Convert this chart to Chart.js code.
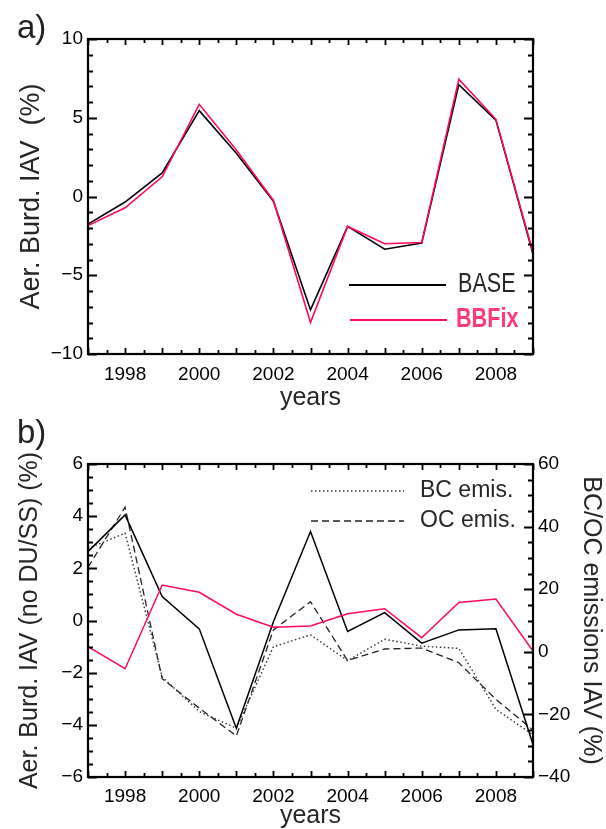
<!DOCTYPE html>
<html>
<head>
<meta charset="utf-8">
<script src="https://cdn.jsdelivr.net/npm/chart.js@4.4.1/dist/chart.umd.min.js"></script>
<style>
  html, body { margin: 0; padding: 0; background: #fff; }
  #wrap { position: relative; width: 606px; height: 829px; overflow: hidden; }
  canvas { position: absolute; left: 0; }
  .panel { position: absolute; font-family: 'Liberation Sans', Arial, sans-serif; font-size: 33px; color: #222; line-height: 1; }
</style>
</head>
<body>
<div id="wrap">
  <canvas id="chartA" width="606" height="420" style="top:0"></canvas>
  <canvas id="chartB" width="606" height="409" style="top:420px"></canvas>
  <div class="panel" style="left:17px; top:10px;">a)</div>
  <div class="panel" style="left:17px; top:415px;">b)</div>
</div>
<script>
// ---- data ----
const years = [1997, 1998, 1999, 2000, 2001, 2002, 2003, 2004, 2005, 2006, 2007, 2008, 2009];

// (a) total aerosol burden interannual variability, %
const burdBase  = [-1.75, -0.35, 1.5, 5.45, 2.75, -0.3, -7.2, -1.9, -3.35, -2.95, 7.1, 4.85, -3.65];
const burdBBFix = [-1.85, -0.72, 1.25, 5.85, 2.95, -0.25, -8.0, -1.9, -3.0, -2.92, 7.45, 4.9, -3.55];

// (b) burden without dust / sea salt, % (left axis)
const burdNoDuSsBase  = [2.64, 4.05, 0.92, -0.32, -4.13, -0.05, 3.41, -0.42, 0.30, -0.87, -0.36, -0.32, -4.75];
const burdNoDuSsBBFix = [-1.0, -1.85, 1.36, 1.08, 0.24, -0.26, -0.21, 0.26, 0.45, -0.66, 0.69, 0.82, -1.17];

// (b) emissions interannual variability, % (right axis)
const bcEmis = [33, 37.9, -8.0, -19.1, -24.4, 1.6, 5.4, -2.8, 4.0, 1.8, 1.1, -18.4, -26.5];
const ocEmis = [27, 46.2, -8.6, -18.0, -26.9, 7.0, 16.0, -2.8, 0.9, 1.2, -3.5, -15.2, -25.0];

// axis ranges
const xRange = [1997, 2009];
const yRangeA = [-10, 10];
const yRangeB = [-6, 6];
const y2RangeB = [-40, 60];

// ---- styling ----
const FONT = "'Liberation Sans', Arial, sans-serif";
const PINK = '#ff0a56';
const PINK_TEXT = '#ff3a78';
const INK = '#000';
const TEXT = '#262626';

const pts = (vals) => vals.map((v, i) => ({ x: years[i], y: v }));
const fmtNum = (v) => (v < 0 ? '\u2212' + Math.abs(v) : String(v));
const isMult = (v, m) => Math.abs(v / m - Math.round(v / m)) < 1e-6;

// frame plus inward tick marks on all four sides
function frameTicks(cfg) {
  return {
    id: 'frameTicks',
    afterDatasetsDraw(chart) {
      const { ctx, chartArea: a, scales } = chart;
      ctx.save();
      ctx.strokeStyle = INK;
      ctx.lineWidth = 1.8;
      ctx.beginPath();
      const xs = scales.x;
      for (let v = xs.min; v <= xs.max + 1e-9; v += 0.5) {
        const px = Math.round(xs.getPixelForValue(v)) + 0.5;
        const len = isMult(v, 1) ? 6 : 4;
        ctx.moveTo(px, a.bottom); ctx.lineTo(px, a.bottom - len);
        ctx.moveTo(px, a.top); ctx.lineTo(px, a.top + len);
      }
      cfg.yTicks.forEach(({ id, minor, major, sides }) => {
        const s = scales[id];
        for (let v = s.min; v <= s.max + 1e-9; v += minor) {
          const py = Math.round(s.getPixelForValue(v)) + 0.5;
          const len = isMult(v, major) ? 9 : 5;
          if (sides.includes('left')) { ctx.moveTo(a.left, py); ctx.lineTo(a.left + len, py); }
          if (sides.includes('right')) { ctx.moveTo(a.right, py); ctx.lineTo(a.right - len, py); }
        }
      });
      ctx.stroke();
      ctx.lineWidth = 2.2;
      ctx.strokeRect(a.left, a.top, a.right - a.left, a.bottom - a.top);
      ctx.restore();
    }
  };
}

// legend key: line sample + label (optionally horizontally narrowed text)
function keyLegend(entries) {
  return {
    id: 'keyLegend',
    afterDraw(chart) {
      const ctx = chart.ctx;
      ctx.save();
      entries.forEach(e => {
        ctx.beginPath();
        ctx.setLineDash(e.dash || []);
        ctx.strokeStyle = e.lineColor;
        ctx.lineWidth = e.lineWidth;
        ctx.moveTo(e.x0, e.y); ctx.lineTo(e.x1, e.y);
        ctx.stroke();
        ctx.setLineDash([]);
        ctx.save();
        ctx.translate(e.tx, e.y + (e.dy || 0));
        ctx.scale(e.squeeze || 1, 1);
        ctx.fillStyle = e.textColor;
        ctx.font = e.font;
        ctx.textBaseline = 'middle';
        ctx.textAlign = 'left';
        ctx.fillText(e.text, 0, 0);
        ctx.restore();
      });
      ctx.restore();
    }
  };
}

const noGrid = { display: false, drawTicks: false };
const noBorder = { display: false };
const tickFont = { family: FONT, size: 19 };

function xAxis(height, pad, titlePad) {
  return {
    type: 'linear', min: xRange[0], max: xRange[1],
    afterFit(s) { s.height = height; },
    grid: noGrid, border: noBorder,
    ticks: {
      stepSize: 1, autoSkip: false, maxRotation: 0, padding: pad,
      color: INK, font: tickFont,
      callback: (v) => (v % 2 === 0 ? String(v) : '')
    },
    title: { display: true, text: 'years', color: TEXT, font: { family: FONT, size: 25 }, padding: { top: 0, bottom: titlePad } }
  };
}

// ---- panel a ----
new Chart(document.getElementById('chartA'), {
  type: 'line',
  data: {
    datasets: [
      { label: 'BBFix', data: pts(burdBBFix), borderColor: PINK, borderWidth: 1.6, order: 0 },
      { label: 'BASE', data: pts(burdBase), borderColor: INK, borderWidth: 1.6, order: 1 }
    ]
  },
  options: {
    responsive: false, animation: false, devicePixelRatio: 1, events: [],
    layout: { padding: { top: 39, right: 73, left: 0, bottom: 0 } },
    elements: { point: { radius: 0 }, line: { tension: 0 } },
    plugins: { legend: { display: false }, tooltip: { enabled: false } },
    scales: {
      x: xAxis(66, 9, 7),
      y: {
        min: yRangeA[0], max: yRangeA[1],
        afterFit(s) { s.width = 88; },
        grid: noGrid, border: noBorder,
        ticks: { stepSize: 5, padding: 5, color: INK, font: tickFont, callback: fmtNum },
        title: { display: true, text: 'Aer. Burd. IAV  (%)', color: TEXT, font: { family: FONT, size: 27 }, padding: { top: 15 } }
      }
    }
  },
  plugins: [
    frameTicks({ yTicks: [{ id: 'y', minor: 1, major: 5, sides: ['left', 'right'] }] }),
    keyLegend([
      { x0: 349, x1: 446, y: 285, lineColor: INK, lineWidth: 1.8, text: 'BASE', tx: 458, textColor: TEXT, font: `27px ${FONT}`, squeeze: 0.8 },
      { x0: 350, x1: 447, y: 320, lineColor: PINK, lineWidth: 1.8, text: 'BBFix', tx: 456, textColor: PINK_TEXT, font: `bold 27px ${FONT}`, squeeze: 0.8 }
    ])
  ]
});

// ---- panel b ----
new Chart(document.getElementById('chartB'), {
  type: 'line',
  data: {
    datasets: [
      { label: 'BBFix', data: pts(burdNoDuSsBBFix), yAxisID: 'y', borderColor: PINK, borderWidth: 1.5, order: 0 },
      { label: 'BASE', data: pts(burdNoDuSsBase), yAxisID: 'y', borderColor: INK, borderWidth: 1.5, order: 1 },
      { label: 'BC emis.', data: pts(bcEmis), yAxisID: 'y2', borderColor: '#333', borderWidth: 1.4, borderDash: [1.5, 2.5], order: 2 },
      { label: 'OC emis.', data: pts(ocEmis), yAxisID: 'y2', borderColor: '#222', borderWidth: 1.3, borderDash: [7, 4], order: 3 }
    ]
  },
  options: {
    responsive: false, animation: false, devicePixelRatio: 1, events: [],
    layout: { padding: { top: 44, right: 0, left: 0, bottom: 0 } },
    elements: { point: { radius: 0 }, line: { tension: 0 } },
    plugins: { legend: { display: false }, tooltip: { enabled: false } },
    scales: {
      x: xAxis(52, 8, -2),
      y: {
        position: 'left', min: yRangeB[0], max: yRangeB[1],
        afterFit(s) { s.width = 88; },
        grid: noGrid, border: noBorder,
        ticks: { stepSize: 2, padding: 5, color: INK, font: tickFont, callback: fmtNum },
        title: { display: true, text: 'Aer. Burd. IAV (no DU/SS) (%)', color: TEXT, font: { family: FONT, size: 25 }, padding: { top: 15 } }
      },
      y2: {
        position: 'right', min: y2RangeB[0], max: y2RangeB[1],
        afterFit(s) { s.width = 73; },
        grid: noGrid, border: noBorder,
        ticks: { stepSize: 20, padding: 5, color: INK, font: tickFont, callback: fmtNum },
        title: { display: true, text: 'BC/OC emissions IAV (%)', color: TEXT, font: { family: FONT, size: 25 }, padding: { top: 0 } }
      }
    }
  },
  plugins: [
    frameTicks({ yTicks: [
      { id: 'y', minor: 0.5, major: 2, sides: ['left'] },
      { id: 'y2', minor: 5, major: 20, sides: ['right'] }
    ] }),
    keyLegend([
      { x0: 311, x1: 404, y: 71, lineColor: '#333', lineWidth: 1.4, dash: [1.5, 2.5], text: 'BC emis.', tx: 420, textColor: TEXT, font: `23px ${FONT}` },
      { x0: 311, x1: 404, y: 101, lineColor: '#222', lineWidth: 1.3, dash: [7, 4], text: 'OC emis.', tx: 420, textColor: TEXT, font: `23px ${FONT}` }
    ])
  ]
});
</script>
</body>
</html>
